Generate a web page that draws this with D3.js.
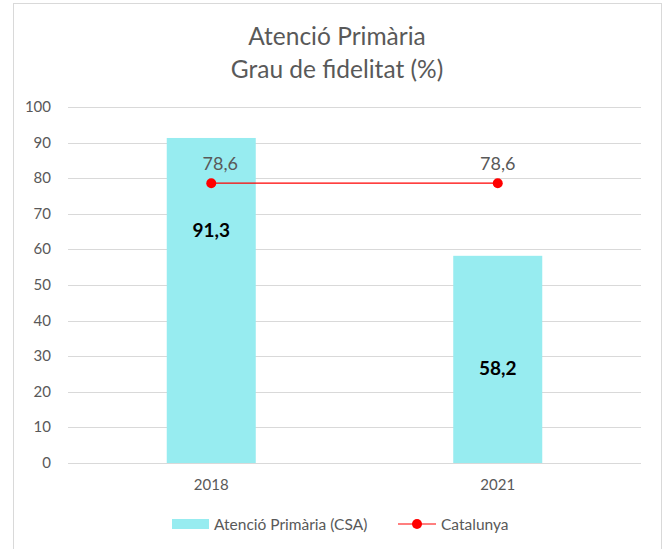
<!DOCTYPE html>
<html><head><meta charset="utf-8">
<script src="https://cdn.jsdelivr.net/npm/d3@7"></script>
<style>body{margin:0;background:#fff;} text{font-family:Lato, "Open Sans", sans-serif;}</style>
</head><body><svg id="c" width="665" height="549"></svg>
<script>
const categories = ["2018", "2021"];
const csaValues = [91.3, 58.2];
const catalunyaValues = [78.6, 78.6];
const yTicks = [0,10,20,30,40,50,60,70,80,90,100];
const titleLines = ["Atenció Primària", "Grau de fidelitat (%)"];
const seriesNames = ["Atenció Primària (CSA)", "Catalunya"];
const fmt = v => String(v).replace(".", ",");

const svg = d3.select("#c");
svg.append("rect").attr("x",13.5).attr("y",3.5).attr("width",648).attr("height",560)
  .attr("fill","#fff").attr("stroke","#d9d9d9").attr("stroke-width",1);

const gray = "#595959";
titleLines.forEach((t,i)=>svg.append("text").attr("x",337).attr("y",44.5+i*33)
  .attr("text-anchor","middle").attr("font-size",24.5).attr("fill",gray).text(t));

const x = d3.scaleBand().domain(categories).range([68,641]);
const y = d3.scaleLinear().domain([0,100]).range([463,107]);

svg.append("g").selectAll("line").data(yTicks).join("line")
  .attr("x1",68).attr("x2",641).attr("y1",d=>Math.round(y(d))+0.5).attr("y2",d=>Math.round(y(d))+0.5)
  .attr("stroke","#d9d9d9").attr("stroke-width",1);

svg.append("g").selectAll("text").data(yTicks).join("text")
  .attr("x",51).attr("y",d=>y(d)+5).attr("text-anchor","end").attr("font-size",15).attr("fill",gray).text(d=>d);

const bw = 89;
svg.append("g").selectAll("rect").data(csaValues).join("rect")
  .attr("x",(d,i)=>x(categories[i])+x.bandwidth()/2-bw/2).attr("width",bw)
  .attr("y",d=>y(d)).attr("height",d=>y(0)-y(d)).attr("fill","#97ecf0");

svg.append("g").selectAll("text").data(categories).join("text")
  .attr("x",d=>x(d)+x.bandwidth()/2).attr("y",490).attr("text-anchor","middle")
  .attr("font-size",15).attr("fill",gray).text(d=>d);

// Bar labels (baseline positions in value units)
const labelAt = [63.5, 24.7];
svg.append("g").selectAll("text").data(csaValues).join("text")
  .attr("x",(d,i)=>x(categories[i])+x.bandwidth()/2).attr("y",(d,i)=>y(labelAt[i]))
  .attr("text-anchor","middle").attr("font-size",19).attr("font-weight","bold").attr("fill","#000").text(fmt);

// Line
const line = d3.line().x((d,i)=>x(categories[i])+x.bandwidth()/2).y(d=>y(d));
svg.append("path").datum(catalunyaValues).attr("d",line).attr("fill","none").attr("stroke","#ff0000").attr("stroke-width",1.2);
svg.append("g").selectAll("circle").data(catalunyaValues).join("circle")
  .attr("cx",(d,i)=>x(categories[i])+x.bandwidth()/2).attr("cy",d=>y(d)).attr("r",5).attr("fill","#ff0000");
svg.append("g").selectAll("text").data(catalunyaValues).join("text")
  .attr("x",(d,i)=>x(categories[i])+x.bandwidth()/2+ (i===0?9:0)).attr("y",d=>y(d)-13)
  .attr("text-anchor","middle").attr("font-size",18).attr("fill",gray).text(fmt);

// Legend
const lg = svg.append("g");
lg.append("rect").attr("x",172).attr("y",519).attr("width",37).attr("height",10).attr("fill","#97ecf0");
lg.append("text").attr("x",214).attr("y",530).attr("font-size",15.5).attr("fill",gray).text(seriesNames[0]);
lg.append("line").attr("x1",398).attr("x2",436).attr("y1",524).attr("y2",524).attr("stroke","#ff0000").attr("stroke-width",1.2);
lg.append("circle").attr("cx",417).attr("cy",524).attr("r",5).attr("fill","#ff0000");
lg.append("text").attr("x",441).attr("y",530).attr("font-size",15.5).attr("fill",gray).text(seriesNames[1]);
</script></body></html>
